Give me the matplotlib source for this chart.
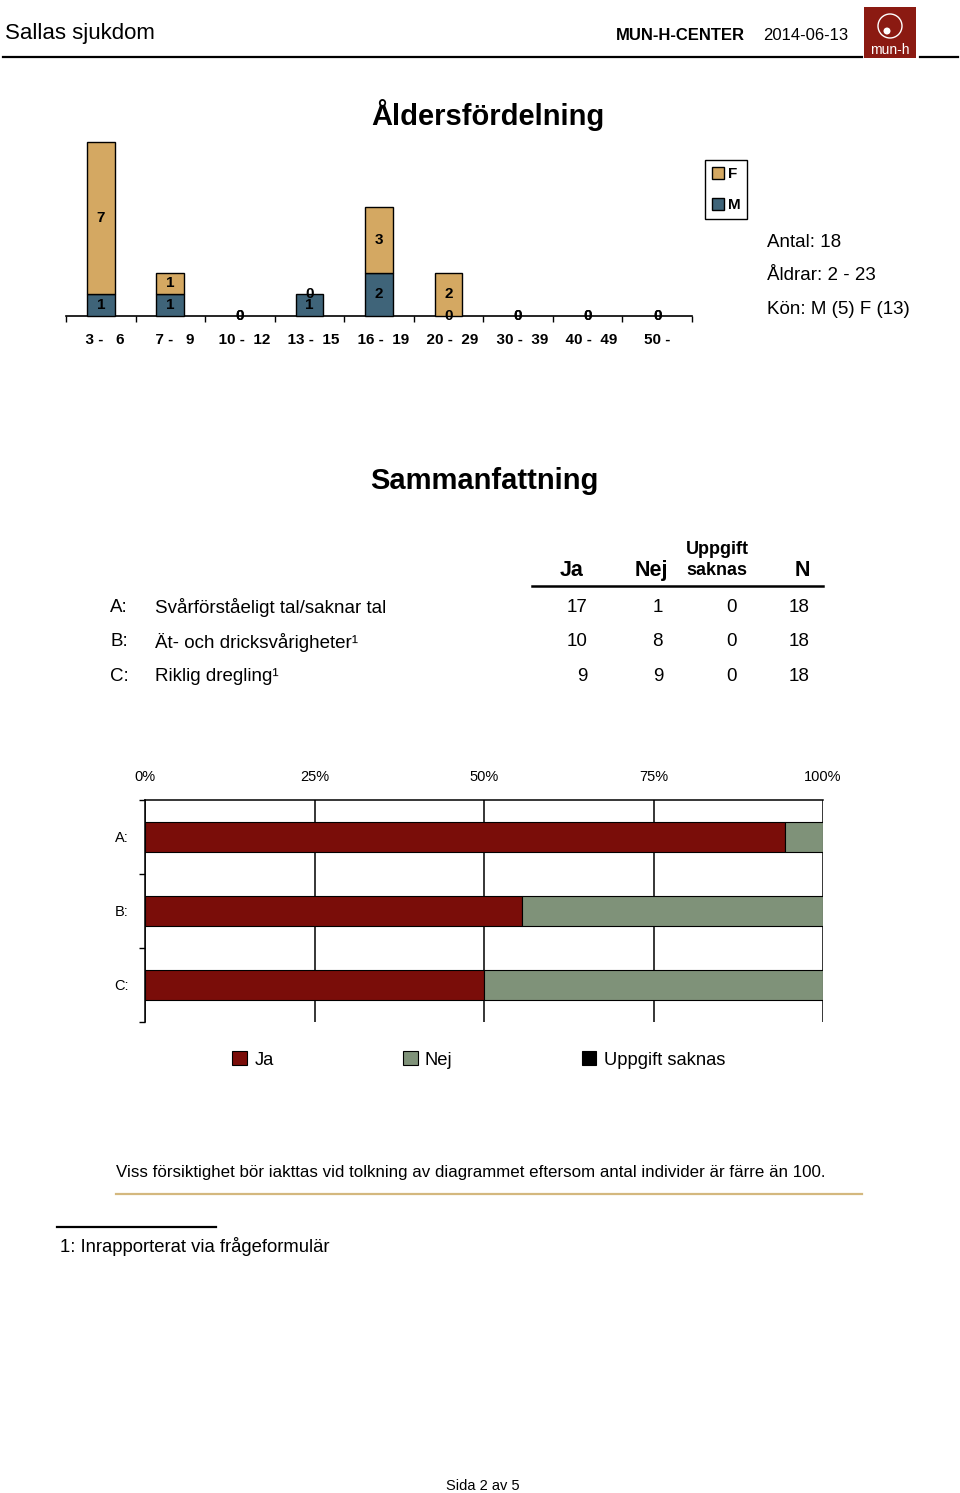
import matplotlib
matplotlib.use("Agg")
import matplotlib.pyplot as plt
from matplotlib.patches import Rectangle, Ellipse, Patch
from matplotlib.lines import Line2D
import numpy as np

plt.rcParams['font.family'] = ['Liberation Sans', 'DejaVu Sans']

# ---------------- data ----------------
age_groups = ["  3 -   6", "  7 -   9", "  10 -  12", "  13 -  15", "  16 -  19",
              "  20 -  29", "  30 -  39", "  40 -  49", "50 -"]
male = [1, 1, 0, 1, 2, 0, 0, 0, 0]
female = [7, 1, 0, 0, 3, 2, 0, 0, 0]

info_lines = ["Antal: 18", "Åldrar: 2 - 23", "Kön: M (5) F (13)"]

row_keys = ["A:", "B:", "C:"]
row_labels = ["Svårförståeligt tal/saknar tal", "Ät- och dricksvårigheter¹", "Riklig dregling¹"]
ja = [17, 10, 9]
nej = [1, 8, 9]
saknas = [0, 0, 0]
n_tot = [18, 18, 18]
pct_ticks = [0, 25, 50, 75, 100]

C_F = "#D4A862"
C_M = "#3F6479"
C_JA = "#7A0D09"
C_NEJ = "#7F9279"
C_SAK = "#000000"

W, H = 960, 1493
fig = plt.figure(figsize=(W / 100, H / 100), dpi=100)


def fx(x):
    return x / W


def fy(y):
    return 1 - y / H


def add_ax(x0, y0, x1, y1):
    return fig.add_axes([fx(x0), fy(y1), (x1 - x0) / W, (y1 - y0) / H])


# ---------------- header ----------------
fig.text(fx(5), fy(33), "Sallas sjukdom", fontsize=16, va="center", ha="left")
fig.text(fx(745), fy(35), "MUN-H-CENTER", fontsize=12, fontweight="bold", va="center", ha="right")
fig.text(fx(848), fy(35), "2014-06-13", fontsize=12, va="center", ha="right")
fig.add_artist(Line2D([fx(3), fx(862)], [fy(57), fy(57)], color="black", lw=1.6))
fig.add_artist(Line2D([fx(920), fx(958)], [fy(57), fy(57)], color="black", lw=1.6))
# logo
fig.add_artist(Rectangle((fx(864), fy(58)), 52 / W, 51 / H, facecolor="#8B1A12", edgecolor="none"))
fig.add_artist(Ellipse((fx(890), fy(26)), 24 / W, 24 / H, facecolor="none", edgecolor="white", lw=1.0,
                       transform=fig.transFigure))
fig.add_artist(Ellipse((fx(887), fy(31)), 7 / W, 7 / H, facecolor="white", edgecolor="none",
                       transform=fig.transFigure))
fig.text(fx(890), fy(50), "mun-h", color="white", fontsize=10, ha="center", va="center")

# ---------------- Åldersfördelning ----------------
fig.text(fx(488), fy(115), "Åldersfördelning", fontsize=21, fontweight="bold", ha="center", va="center")

ax1 = add_ax(66, 142, 692, 316)
x = np.arange(len(age_groups))
bw = 0.4
ax1.bar(x, male, bw, color=C_M, edgecolor="black", lw=[1 if v > 0 else 0 for v in male],
        clip_on=False, zorder=3)
ax1.bar(x, female, bw, bottom=male, color=C_F, edgecolor="black",
        lw=[1 if v > 0 else 0 for v in female], clip_on=False, zorder=3)
for i in range(len(x)):
    ax1.text(x[i], male[i] / 2, str(male[i]), ha="center", va="center", fontsize=11,
             fontweight="bold", zorder=5)
    ax1.text(x[i], male[i] + female[i] / 2, str(female[i]), ha="center", va="center",
             fontsize=11, fontweight="bold", zorder=5)
ax1.set_xlim(-0.5, len(x) - 0.5)
ax1.set_ylim(0, 8)
for s in ["top", "right", "left"]:
    ax1.spines[s].set_visible(False)
ax1.spines["bottom"].set_linewidth(1.2)
ax1.set_yticks([])
ax1.set_xticks(x)
ax1.set_xticklabels(age_groups, fontsize=11, fontweight="bold")
ax1.set_xticks(np.arange(-0.5, len(x), 1.0), minor=True)
ax1.tick_params(axis="x", which="major", length=0, pad=12)
ax1.tick_params(axis="x", which="minor", length=4, width=1, direction="out")
ax1.patch.set_visible(False)

fig.legend(handles=[Patch(facecolor=C_F, edgecolor="black", lw=1, label="F"),
                    Patch(facecolor=C_M, edgecolor="black", lw=1, label="M")],
           loc="upper left", bbox_to_anchor=(fx(705), fy(160)), borderaxespad=0,
           frameon=True, fancybox=False, edgecolor="black", framealpha=1,
           prop={"size": 11, "weight": "bold"}, handlelength=0.8, handleheight=0.8,
           handletextpad=0.22, labelspacing=1.1, borderpad=0.46)

for i, t in enumerate(info_lines):
    fig.text(fx(767), fy(242.5 + i * 33.5), t, fontsize=13.5, ha="left", va="center")

# ---------------- Sammanfattning ----------------
fig.text(fx(484), fy(481), "Sammanfattning", fontsize=21, fontweight="bold", ha="center", va="center")

fig.text(fx(584), fy(570), "Ja", fontsize=15.5, fontweight="bold", ha="right", va="center")
fig.text(fx(668), fy(570), "Nej", fontsize=15.5, fontweight="bold", ha="right", va="center")
fig.text(fx(717), fy(560), "Uppgift\nsaknas", fontsize=13, fontweight="bold", ha="center",
         va="center", linespacing=1.35)
fig.text(fx(810), fy(570), "N", fontsize=15.5, fontweight="bold", ha="right", va="center")
fig.add_artist(Line2D([fx(532), fx(823)], [fy(586), fy(586)], color="black", lw=1.8))

for i in range(len(row_keys)):
    yy = fy(607.5 + i * 34.5)
    fig.text(fx(110), yy, row_keys[i], fontsize=13.5, ha="left", va="center")
    fig.text(fx(155), yy, row_labels[i], fontsize=13.5, ha="left", va="center")
    fig.text(fx(588), yy, str(ja[i]), fontsize=13.5, ha="right", va="center")
    fig.text(fx(663), yy, str(nej[i]), fontsize=13.5, ha="right", va="center")
    fig.text(fx(737), yy, str(saknas[i]), fontsize=13.5, ha="right", va="center")
    fig.text(fx(810), yy, str(n_tot[i]), fontsize=13.5, ha="right", va="center")

# ---------------- percentage bars ----------------
ax2 = add_ax(145, 800, 823, 1022)
yb = np.arange(len(row_keys))
ja_p = np.array(ja) / np.array(n_tot) * 100
nej_p = np.array(nej) / np.array(n_tot) * 100
sak_p = np.array(saknas) / np.array(n_tot) * 100
bh = 0.4
ax2.barh(yb, ja_p, bh, color=C_JA, edgecolor="black", lw=0.8, zorder=3)
ax2.barh(yb, nej_p, bh, left=ja_p, color=C_NEJ, edgecolor="black", lw=0.8, zorder=3)
ax2.barh(yb, sak_p, bh, left=ja_p + nej_p, color=C_SAK, edgecolor="black",
         lw=[0.8 if v > 0 else 0 for v in sak_p], zorder=3)
ax2.set_xlim(0, 100)
ax2.set_ylim(len(row_keys) - 0.5, -0.5)
for v in pct_ticks:
    ax2.axvline(v, color="black", lw=1.1, zorder=1)
ax2.spines["bottom"].set_visible(False)
ax2.spines["right"].set_visible(False)
ax2.spines["top"].set_linewidth(1.1)
ax2.spines["left"].set_linewidth(1.1)
ax2.xaxis.tick_top()
ax2.set_xticks(pct_ticks)
ax2.set_xticklabels([f"{v}%" for v in pct_ticks], fontsize=10.5)
ax2.tick_params(axis="x", length=0, pad=11.5)
ax2.set_yticks(yb)
ax2.set_yticklabels(row_keys, fontsize=10.5)
ax2.set_yticks(np.arange(-0.5, len(row_keys), 1.0), minor=True)
ax2.tick_params(axis="y", which="major", length=0, pad=12)
ax2.tick_params(axis="y", which="minor", length=4, width=1, direction="out")

fig.legend(handles=[Patch(facecolor=C_JA, edgecolor="black", lw=0.8, label="Ja"),
                    Patch(facecolor=C_NEJ, edgecolor="black", lw=0.8, label="Nej"),
                    Patch(facecolor=C_SAK, edgecolor="black", lw=0.8, label="Uppgift saknas")],
           loc="center left", bbox_to_anchor=(fx(225), fy(1060)), borderaxespad=0,
           frameon=False, ncol=3, fontsize=13.2, handlelength=0.8, handleheight=0.8,
           handletextpad=0.4, columnspacing=7.05)

# ---------------- notes ----------------
fig.text(fx(116), fy(1173), "Viss försiktighet bör iakttas vid tolkning av diagrammet eftersom antal individer är färre än 100.",
         fontsize=12.15, ha="left", va="center")
fig.add_artist(Line2D([fx(116), fx(862)], [fy(1194), fy(1194)], color="#D4B87E", lw=1.6))
fig.add_artist(Line2D([fx(57), fx(216)], [fy(1227), fy(1227)], color="black", lw=1.6))
fig.text(fx(60), fy(1247), "1: Inrapporterat via frågeformulär", fontsize=13.3, ha="left", va="center")
fig.text(fx(483), fy(1486), "Sida 2 av 5", fontsize=10.5, ha="center", va="center")

fig.savefig("out.png", dpi=100)
